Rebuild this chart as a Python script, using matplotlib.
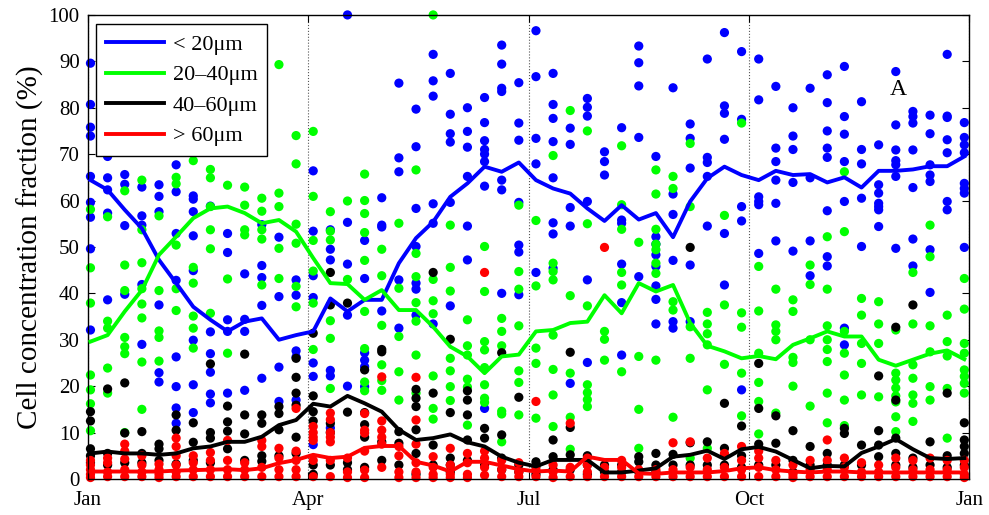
import numpy as np
import matplotlib.pyplot as plt

# sampling days (weekly), x axis runs over a 360 day year
days = [1, 8, 15, 22, 29, 36, 43, 50, 57, 64, 71, 78, 85, 92, 99, 106, 113,
        120, 127, 134, 141, 148, 155, 162, 169, 176, 183, 190, 197, 204, 211,
        218, 225, 232, 239, 246, 253, 260, 267, 274, 281, 288, 295, 302, 309,
        316, 323, 330, 337, 344, 351, 358]

# individual samples per week (%), one list per week
blue_pts = [
    [89.6, 80.7, 75.8, 73.9, 65.2, 59.6, 56.4, 49.6, 32.1],
    [69.5, 64.9, 62.3, 57.3, 38.6],
    [65.6, 63.5, 54.6, 39.8],
    [71.0, 62.9, 56.7, 54.7, 41.9, 29.0],
    [63.4, 60.9, 57.6, 37.5, 22.9, 20.9],
    [67.7, 61.9, 52.9, 42.8, 26.3, 19.9, 15.3, 12.0],
    [61.0, 60.3, 57.6, 52.4, 44.9, 29.9, 20.3, 14.3],
    [58.8, 31.7, 27.0, 23.0, 18.3, 16.4],
    [52.9, 48.8, 34.3, 31.8, 18.5],
    [44.2, 34.4, 31.8, 19.1],
    [54.8, 46.0, 43.4, 37.4, 21.7],
    [52.1, 39.3, 24.1, 16.7],
    [42.9, 39.6, 27.6, 26.3, 17.0],
    [66.4, 53.4, 43.8, 39.1, 25.0, 22.1, 7.4],
    [53.7, 49.5, 47.2, 23.4, 22.2, 11.0],
    [100.0, 55.3, 46.3, 35.3, 20.0],
    [51.4, 43.2, 27.2, 25.6, 24.2, 19.9],
    [60.6, 54.7, 54.3, 36.2],
    [85.3, 69.2, 66.2, 42.9, 32.5],
    [79.7, 71.6, 58.3, 50.1, 42.2, 40.9, 35.3],
    [91.5, 85.8, 82.5, 59.3, 55.1, 33.4],
    [87.4, 78.6, 74.4, 72.6, 59.6, 37.3],
    [80.0, 74.9, 71.5, 65.2, 54.5, 47.2],
    [82.2, 76.8, 72.9, 71.0, 70.0, 68.4, 63.1, 15.2],
    [93.5, 89.4, 84.2, 83.5, 64.4, 62.3, 40.0],
    [85.4, 76.7, 73.0, 59.6, 50.4, 48.9, 39.7],
    [96.6, 86.7, 73.4, 67.9, 44.5],
    [87.4, 80.7, 77.7, 72.7, 64.9, 55.2, 52.8, 45.4],
    [75.6, 72.1, 58.5, 54.5, 20.6],
    [82.0, 80.1, 78.2, 59.8, 42.9, 25.1],
    [70.5, 68.4, 65.5],
    [75.7, 55.8, 55.1, 46.3, 38.0, 26.7],
    [93.3, 89.7, 84.7, 73.6, 43.6],
    [69.5, 52.2, 50.6, 48.3, 45.8, 41.6, 38.7, 33.4],
    [84.3, 61.4, 57.0, 47.1, 33.9, 32.5],
    [76.5, 73.4, 67.0, 46.1, 33.9],
    [90.5, 69.3, 68.2, 65.2, 54.5],
    [96.2, 80.4, 78.8, 73.2, 52.9, 41.8],
    [92.1, 77.5, 58.7, 55.6, 19.2],
    [90.5, 81.7, 60.8, 59.8, 59.1, 48.6],
    [84.6, 71.3, 68.4, 64.4, 59.4, 51.3],
    [80.0, 73.9, 71.0, 63.9, 49.1],
    [84.2, 64.9, 51.3, 43.8],
    [87.1, 81.1, 75.0, 71.3, 69.3, 57.8, 47.9, 45.9],
    [88.9, 78.1, 74.3, 68.4, 59.8, 32.5, 28.9],
    [81.3, 71.0, 67.9, 60.5, 50.1],
    [72.0, 63.4, 61.6, 59.4, 58.7, 58.0, 54.4],
    [87.8, 76.3, 70.9, 68.6, 67.7, 65.2, 49.7],
    [79.2, 78.1, 76.7, 70.9, 62.8, 51.7, 45.9],
    [78.4, 74.4, 67.7, 65.5, 64.1, 49.4, 40.2],
    [91.5, 78.2, 77.9, 73.1, 70.3, 59.8, 58.0],
    [76.8, 73.6, 72.0, 70.3, 63.7, 62.6, 61.6, 49.9],
]

green_pts = [
    [58.1, 45.5, 37.9, 22.4, 19.2, 16.2, 10.4],
    [56.5, 34.0, 32.5, 23.9, 18.5],
    [62.1, 46.1, 40.6, 30.5, 28.5, 27.0, 10.0],
    [64.4, 53.7, 46.6, 41.0, 37.7, 34.7, 25.2, 15.0],
    [56.7, 40.6, 31.9, 30.5, 25.4],
    [65.0, 63.6, 50.4, 41.0, 36.3],
    [68.6, 45.6, 42.2, 35.1, 32.5, 28.2],
    [66.7, 64.9, 58.7, 53.7, 49.6, 35.7],
    [70.5, 63.3, 43.1, 27.1],
    [62.9, 59.0, 53.7, 52.6],
    [60.5, 57.7, 53.7, 51.7, 41.8],
    [89.3, 61.6, 58.7, 49.7, 43.2],
    [74.0, 67.9, 54.9, 50.8, 41.5, 37.1],
    [74.9, 60.9, 51.4, 44.8, 37.9, 27.9],
    [57.6, 53.4, 51.5, 34.1, 30.3, 19.5],
    [59.9, 43.0],
    [65.7, 60.0, 57.2, 53.1, 47.1, 36.1, 28.1, 20.9, 19.0],
    [49.5, 43.8, 33.1, 24.6, 21.2, 19.1],
    [55.1, 41.1, 30.7, 23.1, 17.0],
    [66.6, 48.6, 43.6, 38.0, 34.0, 26.7, 18.5],
    [100.0, 43.0, 38.4, 35.6, 22.2, 15.2, 12.9],
    [54.7, 45.6, 40.5, 26.0, 23.3, 19.9, 16.9],
    [34.3, 28.7, 26.7, 21.5, 19.8, 11.6],
    [50.1, 40.4, 29.6, 27.8, 24.0, 20.3, 17.4, 16.5],
    [34.6, 31.8, 28.7, 14.6, 14.0, 8.0],
    [59.0, 44.7, 40.9, 33.0, 23.3, 20.8, 13.8],
    [55.7, 41.6, 28.2, 24.9, 13.1],
    [69.7, 46.5, 44.7, 42.9, 31.0, 23.6, 18.1, 11.3],
    [79.4, 39.5, 22.8, 13.3, 6.4],
    [75.0, 55.0, 37.3, 20.3, 18.6, 17.1, 15.6],
    [31.8, 30.1, 25.6],
    [71.8, 59.1, 53.8, 44.5, 41.8, 23.1],
    [51.0, 26.4, 15.0, 6.6],
    [66.6, 61.4, 53.8, 50.6, 49.4, 46.5, 44.3, 25.6],
    [65.2, 62.6, 38.2, 36.4, 13.3],
    [72.3, 58.7, 32.8, 26.0, 4.5],
    [35.9, 33.4, 31.3, 28.9, 19.2, 6.6],
    [56.8, 37.5, 24.7],
    [76.7, 35.8, 32.7, 22.8, 13.6],
    [45.8, 36.2, 27.1, 20.8, 16.7, 9.7],
    [40.9, 33.2, 31.8, 30.0, 14.2],
    [38.6, 36.1, 26.2, 25.1, 20.0],
    [46.1, 41.9, 30.0, 15.7],
    [52.2, 40.9, 33.0, 30.0, 27.9, 25.3, 18.5, 12.1],
    [66.2, 53.3, 31.8, 27.1, 22.4, 17.0, 11.5],
    [38.9, 35.3, 29.2, 24.9, 18.1],
    [38.2, 33.4, 29.2, 17.7],
    [32.1, 22.8, 21.3, 19.6, 17.9, 16.6, 13.4, 10.2],
    [44.5, 33.4, 24.6, 21.7, 18.1, 16.3, 12.4],
    [54.7, 47.9, 33.0, 27.4, 19.9, 17.0],
    [35.3, 29.6, 26.5, 19.5, 8.8],
    [43.2, 36.6, 29.2, 27.1, 23.5, 22.1, 20.6, 18.5],
]

black_pts = [
    [14.5, 12.5, 6.5, 5.0, 3.5],
    [19.4, 5.5, 3.0],
    [20.7, 9.9, 3.5],
    [10.2, 5.5, 3.5],
    [7.5, 6.5, 4.0],
    [13.8, 10.5, 3.2],
    [12.1, 7.9, 4.0],
    [24.8, 10.0, 8.8, 3.5],
    [15.7, 12.3, 10.3, 6.5],
    [26.9, 13.8, 9.7, 4.0],
    [13.8, 12.0, 5.0, 3.8],
    [15.6, 14.1, 10.6, 5.0],
    [26.0, 21.9, 18.5, 15.9, 9.0, 5.5],
    [31.4, 17.9, 14.5, 12.5, 3.0, 1.0],
    [44.5, 37.5, 12.0, 10.0, 3.0],
    [37.9, 14.4, 3.5, 2.0],
    [23.5, 14.3, 11.7, 9.0, 2.5],
    [27.9, 27.4, 8.0, 4.0],
    [10.2, 7.7, 3.0],
    [19.3, 17.4, 15.6, 10.6, 5.5, 1.0],
    [44.5, 18.5, 7.3, 3.0],
    [30.1, 14.3, 4.5, 3.0, 1.5],
    [19.0, 17.0, 13.8, 8.4, 4.0],
    [10.9, 8.8, 3.0],
    [27.2, 9.5, 4.5, 2.0],
    [17.6, 3.0, 1.5],
    [3.7, 2.7, 1.0],
    [8.4, 4.8, 2.0],
    [27.3, 11.1, 5.2, 2.0],
    [5.0, 3.0, 1.0],
    [3.0, 1.5],
    [3.0, 1.5],
    [4.8, 3.7, 1.5],
    [5.5, 3.0, 1.5],
    [5.3, 3.0],
    [49.9, 7.8, 3.0],
    [8.0, 3.0],
    [16.3, 6.6, 3.0],
    [11.4, 5.0, 2.5],
    [24.9, 15.2, 7.5, 3.0],
    [13.6, 7.7, 3.0],
    [10.4, 4.0, 1.5],
    [7.0, 3.0],
    [5.5, 3.0],
    [10.9, 9.8, 3.0],
    [7.3, 3.0],
    [22.2, 10.4, 7.3, 4.8],
    [32.7, 17.0, 8.8, 5.5, 3.0],
    [37.5, 4.5, 2.5],
    [8.0, 3.0],
    [18.5, 5.0, 2.5],
    [12.1, 8.4, 7.0, 5.5, 3.0],
]

red_pts = [
    [4.0, 3.0, 2.0, 1.0, 0.3],
    [4.5, 3.5, 1.5, 0.5],
    [7.5, 6.0, 4.3, 2.0, 0.5],
    [5.0, 3.0, 1.5, 0.5],
    [3.2, 2.0, 1.0, 0.3],
    [8.8, 7.0, 5.0, 3.0, 1.5, 0.5],
    [5.0, 3.5, 2.0, 0.5],
    [5.7, 4.0, 2.0, 0.5],
    [8.3, 4.0, 2.0, 0.5],
    [3.5, 2.0, 0.5],
    [8.3, 7.0, 2.5, 0.5],
    [6.6, 4.5, 2.0, 0.5],
    [15.2, 6.0, 4.0, 2.0, 0.5],
    [11.3, 10.0, 9.0, 8.3, 4.0, 0.5],
    [14.2, 12.8, 10.0, 9.0, 8.0, 4.0, 0.5],
    [4.5, 1.5, 0.3],
    [14.1, 10.5, 9.9, 6.0, 1.9, 0.3],
    [22.0, 12.5, 10.5, 9.0, 7.5, 2.5],
    [7.0, 5.0, 1.5, 0.3],
    [21.9, 12.7, 7.5, 3.5, 1.5, 0.3],
    [4.8, 2.5, 1.0, 0.3],
    [6.6, 3.0, 1.0, 0.3],
    [5.5, 3.5, 1.0, 0.3],
    [44.5, 6.0, 4.5, 2.5, 0.8],
    [4.0, 2.0, 0.5],
    [3.5, 1.5, 0.5],
    [16.7, 2.0, 0.5],
    [3.0, 1.5, 0.3],
    [12.0, 2.5, 0.5],
    [4.5, 3.0, 1.5, 0.5],
    [49.9, 2.5, 0.5],
    [4.0, 2.5, 0.5],
    [2.0, 0.5],
    [2.0, 0.5],
    [7.8, 2.0, 0.5],
    [8.0, 2.5, 0.5],
    [4.5, 2.0, 0.5],
    [5.5, 2.5, 0.5],
    [7.0, 4.0, 2.0, 0.5],
    [6.0, 4.5, 2.5, 0.5],
    [4.0, 2.0, 0.5],
    [3.0, 1.0, 0.3],
    [4.0, 2.0, 0.5],
    [8.4, 4.0, 2.0, 0.5],
    [4.5, 2.5, 0.5],
    [3.5, 1.5, 0.5],
    [3.0, 1.5, 0.5],
    [4.5, 2.5, 0.5],
    [4.0, 2.0, 0.5],
    [4.5, 2.0, 0.5],
    [4.0, 2.0, 0.5],
    [4.0, 2.5, 1.0, 0.3],
]

# smoothed weekly means (%)
blue_line = [64.4, 62.3, 58.0, 54.0, 47.2, 42.2, 37.1, 34.3, 31.8, 33.9, 34.6,
             30.0, 31.0, 31.8, 38.9, 36.1, 38.6, 38.6, 46.5, 51.9, 55.4, 60.8,
             63.7, 67.3, 66.2, 68.2, 64.4, 62.6, 61.5, 58.3, 55.6, 59.0, 55.9,
             57.3, 52.1, 59.8, 64.8, 67.3, 65.5, 64.4, 66.4, 65.5, 65.7, 63.9,
             65.0, 62.8, 66.4, 66.4, 66.7, 67.4, 67.4, 69.5]
green_line = [29.6, 31.0, 36.1, 40.7, 48.3, 52.2, 56.2, 58.3, 58.7, 57.3, 55.1,
              55.8, 53.3, 47.6, 42.2, 42.0, 38.6, 40.7, 36.4, 36.4, 32.8, 28.5,
              26.4, 22.8, 26.4, 26.8, 31.8, 32.1, 33.6, 33.9, 39.6, 35.7, 42.2,
              40.4, 41.8, 33.6, 28.7, 27.5, 26.0, 26.5, 25.8, 28.9, 30.3, 31.8,
              30.7, 30.7, 25.7, 24.4, 25.7, 27.0, 27.7, 25.8]
black_line = [5.5, 5.9, 5.5, 5.5, 5.2, 5.5, 6.6, 7.0, 8.0, 8.0, 9.1, 11.6, 12.7,
              16.2, 15.6, 17.9, 16.3, 14.5, 10.6, 8.4, 8.8, 9.6, 7.9, 7.0, 4.8,
              3.5, 2.7, 4.1, 4.1, 4.1, 1.4, 1.4, 1.8, 2.3, 4.8, 5.2, 6.1, 4.3,
              6.4, 6.9, 5.9, 4.1, 2.3, 2.8, 2.7, 5.6, 7.0, 8.6, 6.4, 4.5, 4.3, 4.5]
red_line = [1.6, 1.6, 1.6, 1.6, 1.6, 1.8, 1.9, 2.0, 2.1, 1.9, 2.3, 3.4, 4.1,
            5.2, 4.5, 4.8, 6.7, 7.1, 7.1, 3.7, 2.9, 1.6, 3.7, 3.7, 2.9, 2.1,
            1.6, 1.8, 1.6, 4.8, 4.1, 4.1, 1.2, 1.1, 1.4, 1.4, 1.4, 1.7, 2.3,
            2.5, 1.9, 1.6, 1.4, 1.6, 1.6, 1.4, 1.4, 1.4, 1.4, 1.4, 1.4, 1.4]

labels = ['< 20\u03bcm', '20\u201340\u03bcm', '40\u201360\u03bcm', '> 60\u03bcm']
colors = ['#0000ff', '#00ff00', '#000000', '#ff0000']
month_ticks = [0, 90, 180, 270, 360]
month_labels = ['Jan', 'Apr', 'Jul', 'Oct', 'Jan']

plt.rcParams['font.family'] = ['Liberation Serif', 'DejaVu Serif']

fig = plt.figure(figsize=(9.89, 5.15), dpi=100)
ax = fig.add_axes([0.089, 0.070, 0.891, 0.901])

groups = [blue_pts, green_pts, black_pts, red_pts]
for pts, c in zip(groups, colors):
    xs = [d for d, col in zip(days, pts) for _ in col]
    ys = [v for col in pts for v in col]
    ax.scatter(xs, ys, s=44, color=c, edgecolors='none', zorder=2, clip_on=False)

for line, c, lab in zip([blue_line, green_line, black_line, red_line], colors, labels):
    ax.plot(days, line, color=c, lw=2.8, label=lab, zorder=3)

ax.set_xlim(0, 360)
ax.set_ylim(0, 100)
ax.set_xticks(month_ticks)
ax.set_xticklabels(month_labels)
ax.set_yticks(np.arange(0, 101, 10))
ax.tick_params(direction='in', top=True, right=True, labelsize=15, length=5)
ax.tick_params(axis='x', pad=9)
ax.tick_params(axis='y', pad=6)
ax.xaxis.grid(True, linestyle=':', color='#555555', lw=0.8)
ax.set_axisbelow(True)
for s in ax.spines.values():
    s.set_linewidth(1.0)

ax.set_ylabel('Cell concentration fraction (%)', fontsize=21, labelpad=3)
ax.text(331, 84, 'A', fontsize=17, ha='center', va='center')

leg = ax.legend(loc='upper left', fontsize=16, handlelength=2.6, handletextpad=0.4,
                fancybox=False, edgecolor='black', framealpha=1, borderpad=0.45,
                labelspacing=0.45, borderaxespad=0, bbox_to_anchor=(0.009, 0.98))
leg.get_frame().set_linewidth(1.0)
leg.set_zorder(5)

fig.savefig('out.png', dpi=100)
